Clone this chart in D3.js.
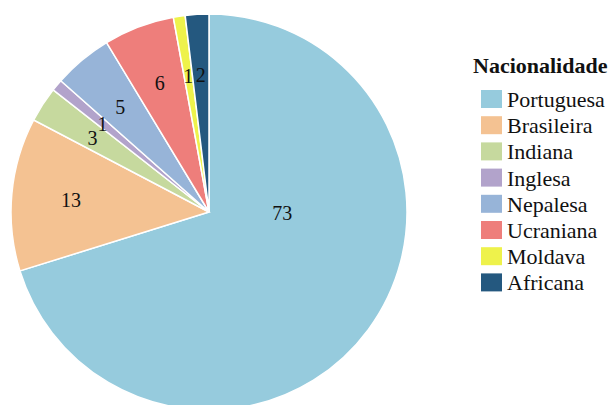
<!DOCTYPE html>
<html><head><meta charset="utf-8">
<script src="https://cdn.jsdelivr.net/npm/d3@7"></script>
<style>html,body{margin:0;padding:0;background:#fff;overflow:hidden}</style>
</head><body>
<svg id="chart" width="614" height="405"></svg>
<script>
const categories = ["Portuguesa","Brasileira","Indiana","Inglesa","Nepalesa","Ucraniana","Moldava","Africana"];
const values = [73, 13, 3, 1, 5, 6, 1, 2];
const colors = ["#96CBDD","#F4C292","#C6D99E","#B2A3CB","#97B4D8","#EE7E7B","#EEF24B","#24587F"];
const legendTitle = "Nacionalidade";

const svg = d3.select("#chart");
const cx = 209, cy = 212, R = 198;
const data = categories.map((c,i)=>({cat:c, value:values[i], color:colors[i]}));
const pie = d3.pie().value(d=>d.value).sort(null);
const arcs = pie(data);
const arc = d3.arc().innerRadius(0).outerRadius(R);
const g = svg.append("g").attr("transform",`translate(${cx},${cy})`);
g.selectAll("path").data(arcs).enter().append("path")
  .attr("d", arc).attr("fill", d=>d.data.color)
  .attr("stroke","#fff").attr("stroke-width",1.5);

const labelArc = d3.arc().innerRadius(R*0.7).outerRadius(R*0.7);
g.selectAll("text.lbl").data(arcs).enter().append("text")
  .attr("class","lbl")
  .attr("transform", d=>{
    if (d.endAngle - d.startAngle > Math.PI) {
      const r = R*0.37, a = Math.PI/2;
      return `translate(${r*Math.sin(a)},${-r*Math.cos(a)})`;
    }
    const c = labelArc.centroid(d);
    return `translate(${c[0]},${c[1]})`;
  })
  .attr("text-anchor","middle").attr("dy","0.4em")
  .attr("font-family","'Liberation Serif','Times New Roman',serif")
  .attr("font-size",20).attr("fill","#111")
  .text(d=>d.data.value);

const lg = svg.append("g");
lg.append("text").attr("x",473).attr("y",73)
  .attr("font-family","'Liberation Serif','Times New Roman',serif")
  .attr("font-weight","bold").attr("font-size",22).attr("fill","#111")
  .text(legendTitle);
const items = lg.selectAll("g.item").data(data).enter().append("g")
  .attr("transform",(d,i)=>`translate(0,${90 + i*26.2})`);
items.append("rect").attr("x",481).attr("y",0).attr("width",21).attr("height",18)
  .attr("fill",d=>d.color);
items.append("text").attr("x",507).attr("y",17)
  .attr("font-family","'Liberation Serif','Times New Roman',serif")
  .attr("font-size",22).attr("fill","#111")
  .text(d=>d.cat);
</script>
</body></html>
